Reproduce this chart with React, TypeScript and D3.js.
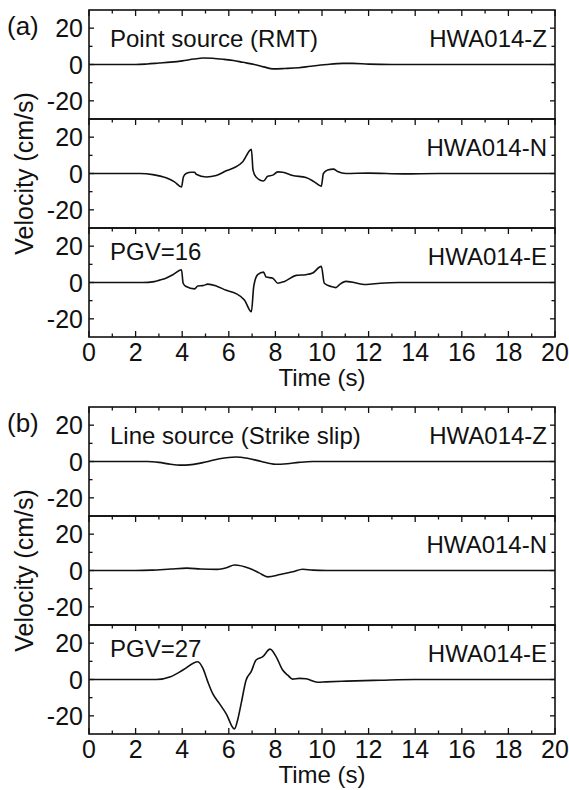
import React from "react";
import * as d3 from "d3";

// Time axis ticks (s)
const X_MAJOR = [0, 2, 4, 6, 8, 10, 12, 14, 16, 18, 20];
const X_MINOR = [1, 3, 5, 7, 9, 11, 13, 15, 17, 19];
const Y_MAJOR = [-20, 0, 20];
const Y_MINOR = [-10, 10];

// (a) Point source (RMT) — [time s, velocity cm/s]
const pointZ: [number, number][] = [
  [0, 0], [2, 0], [2.5, 0.3], [3, 0.8], [3.5, 1.3], [4, 2], [4.5, 3], [4.9, 3.6], [5.3, 3.4],
  [5.8, 2.8], [6.2, 2.2], [6.6, 1.2], [7.1, 0], [7.5, -1.3], [7.9, -2.4], [8.4, -2.2], [9, -1.8],
  [9.5, -1], [10.2, 0], [10.9, 0.6], [11.3, 0.6], [12, 0.2], [13, 0], [20, 0],
];
const pointN: [number, number][] = [
  [0, 0], [2.17, 0], [2.74, -0.6], [3.31, -2.4], [3.67, -4.6], [3.97, -7.4], [4.05, -1.9],
  [4.17, 0], [4.39, 0.7], [4.53, 0.7], [4.6, -0.4], [5.03, -1.9], [5.46, -1.1], [5.89, 1.5],
  [6.31, 3.7], [6.6, 6.5], [6.97, 13.3], [7.04, 1.9], [7.17, -1.9], [7.49, -4.1], [7.67, -1.5],
  [7.89, -0.9], [8.1, 0.9], [8.31, 0.7], [8.74, -1.1], [9.31, -2.2], [9.67, -4.6], [9.97, -7],
  [10.06, 0], [10.24, 1.9], [10.49, 2.4], [10.67, 1.1], [11.03, 0], [12, 0.2], [13.5, -0.2],
  [15, 0], [20, 0],
];
const pointE: [number, number][] = [
  [0, 0], [2.3, 0], [2.8, 0.5], [3.03, 1.3], [3.3, 2.4], [3.6, 4.3], [3.97, 7], [4.04, -0.4],
  [4.17, -2.2], [4.53, -3.5], [4.67, -1.9], [4.89, -1.7], [5.1, -0.9], [5.46, -1.9], [5.89, -4.3],
  [6.31, -6.1], [6.67, -9.6], [6.97, -16.1], [7.07, -2.2], [7.24, 4.3], [7.49, 5.7], [7.6, 3],
  [7.89, 2.4], [8.1, -0.4], [8.39, 0.6], [8.89, 3.9], [9.31, 4.3], [9.6, 5.2], [9.97, 8.9],
  [10.1, -0.4], [10.39, -2.2], [10.6, -2.8], [10.74, -1.3], [11.03, 0.6], [11.9, -1.1],
  [12.5, -0.4], [13.3, 0], [20, 0],
];

// (b) Line source (Strike slip)
const lineZ: [number, number][] = [
  [0, 0], [2.5, 0], [3, -0.5], [3.5, -1.5], [3.9, -2], [4.4, -1.7], [5, -0.3], [5.6, 1.5],
  [6.3, 2.5], [6.8, 1.8], [7.4, 0], [8, -1.5], [8.5, -1.2], [9, -0.5], [9.6, 0], [20, 0],
];
const lineN: [number, number][] = [
  [0, 0], [2, 0], [2.7, 0.2], [3.5, 0.8], [4.2, 1.3], [4.8, 0.8], [5.5, 0.6], [5.9, 1.5],
  [6.24, 3], [6.9, 1.1], [7.3, -1.3], [7.67, -3.5], [8.2, -2.2], [8.74, -0.7], [9.17, 0.7],
  [9.6, 0.2], [10.2, 0], [20, 0],
];
const lineE: [number, number][] = [
  [0, 0], [2.9, 0], [3.5, 1.5], [4.03, 5.2], [4.67, 9.8], [4.89, 6.1], [5.1, -1.3], [5.31, -7.8],
  [5.6, -13.3], [5.89, -18.9], [6.24, -27.2], [6.39, -21.7], [6.53, -13.3], [6.74, -0.4],
  [6.96, 4.3], [7.17, 10.7], [7.46, 12.6], [7.77, 16.7], [8.03, 12.6], [8.31, 5.2], [8.53, 2.4],
  [8.74, 0.2], [9.03, 0.6], [9.31, 0.4], [9.81, -1.5], [10.17, -1.3], [11.05, -0.9], [12.5, -0.4],
  [14, 0], [20, 0],
];

const COMPONENTS = ["HWA014-Z", "HWA014-N", "HWA014-E"];
const PANELS = [
  { tag: "(a)", title: "Point source (RMT)", pgv: "PGV=16", series: [pointZ, pointN, pointE] },
  { tag: "(b)", title: "Line source (Strike slip)", pgv: "PGV=27", series: [lineZ, lineN, lineE] },
];

const W = 569;
const H = 790;
const LEFT = 89;
const RIGHT = 555;
const SUB_H = 109;
const PANEL_TOPS = [10, 407];
const FONT = "'Liberation Sans', Arial, Helvetica, sans-serif";
const INK = "#111";

const x = d3.scaleLinear().domain([0, 20]).range([LEFT, RIGHT]);

function Subplot({ top, data, leftText, leftTextDy, rightText, bottom }: any) {
  const y = d3.scaleLinear().domain([-30, 30]).range([top + SUB_H, top]);
  const line = d3
    .line<[number, number]>()
    .x((d) => x(d[0]))
    .y((d) => y(d[1]))
    .curve(d3.curveMonotoneX);
  const ticks: any[] = [];
  X_MAJOR.forEach((t, i) => {
    ticks.push(<line key={"tm" + i} x1={x(t)} x2={x(t)} y1={top} y2={top + 6} />);
    if (bottom) ticks.push(<line key={"bm" + i} x1={x(t)} x2={x(t)} y1={top + SUB_H} y2={top + SUB_H - 6} />);
  });
  X_MINOR.forEach((t, i) => {
    ticks.push(<line key={"tn" + i} x1={x(t)} x2={x(t)} y1={top} y2={top + 3.5} />);
    if (bottom) ticks.push(<line key={"bn" + i} x1={x(t)} x2={x(t)} y1={top + SUB_H} y2={top + SUB_H - 3.5} />);
  });
  Y_MAJOR.forEach((v, i) => {
    ticks.push(<line key={"lm" + i} x1={LEFT} x2={LEFT + 5} y1={y(v)} y2={y(v)} />);
    ticks.push(<line key={"rm" + i} x1={RIGHT} x2={RIGHT - 5} y1={y(v)} y2={y(v)} />);
  });
  Y_MINOR.forEach((v, i) => {
    ticks.push(<line key={"ln" + i} x1={LEFT} x2={LEFT + 3.5} y1={y(v)} y2={y(v)} />);
    ticks.push(<line key={"rn" + i} x1={RIGHT} x2={RIGHT - 3.5} y1={y(v)} y2={y(v)} />);
  });
  return (
    <g>
      <g stroke={INK} strokeWidth={1.3}>{ticks}</g>
      <path d={line(data) || ""} fill="none" stroke={INK} strokeWidth={1.6} strokeLinejoin="round" />
      <rect x={LEFT} y={top} width={RIGHT - LEFT} height={SUB_H} fill="none" stroke={INK} strokeWidth={1.6} />
      {Y_MAJOR.map((v) => (
        <text key={v} x={LEFT - 6} y={y(v) + 9} textAnchor="end" fontSize={25} fill={INK}>
          {v}
        </text>
      ))}
      {leftText && (
        <text x={110} y={top + leftTextDy} fontSize={24} fill={INK}>
          {leftText}
        </text>
      )}
      <text x={RIGHT - 8} y={top + 37} textAnchor="end" fontSize={24} fill={INK}>
        {rightText}
      </text>
    </g>
  );
}

export default function App() {
  return (
    <svg
      width={W}
      height={H}
      viewBox={`0 0 ${W} ${H}`}
      style={{ position: "absolute", left: 0, top: 0, background: "#fff" }}
      fontFamily={FONT}
    >
      <rect x={0} y={0} width={W} height={H} fill="#fff" />
      {PANELS.map((p, pi) => {
        const top = PANEL_TOPS[pi];
        const bottomY = top + 3 * SUB_H;
        return (
          <g key={pi}>
            {p.series.map((s, si) => (
              <Subplot
                key={si}
                top={top + si * SUB_H}
                data={s}
                leftText={si === 0 ? p.title : si === 2 ? p.pgv : null}
                leftTextDy={si === 0 ? 37 : 32}
                rightText={COMPONENTS[si]}
                bottom={si === 2}
              />
            ))}
            {X_MAJOR.map((t) => (
              <text key={t} x={x(t)} y={bottomY + 24} textAnchor="middle" fontSize={25} fill={INK}>
                {t}
              </text>
            ))}
            <text x={(LEFT + RIGHT) / 2} y={bottomY + 49} textAnchor="middle" fontSize={24} fill={INK}>
              Time (s)
            </text>
            <text x={7} y={top + 25} fontSize={26} fill={INK}>
              {p.tag}
            </text>
            <text
              transform={`translate(33, ${top + 1.5 * SUB_H}) rotate(-90)`}
              textAnchor="middle"
              fontSize={25}
              fill={INK}
            >
              Velocity (cm/s)
            </text>
          </g>
        );
      })}
    </svg>
  );
}
